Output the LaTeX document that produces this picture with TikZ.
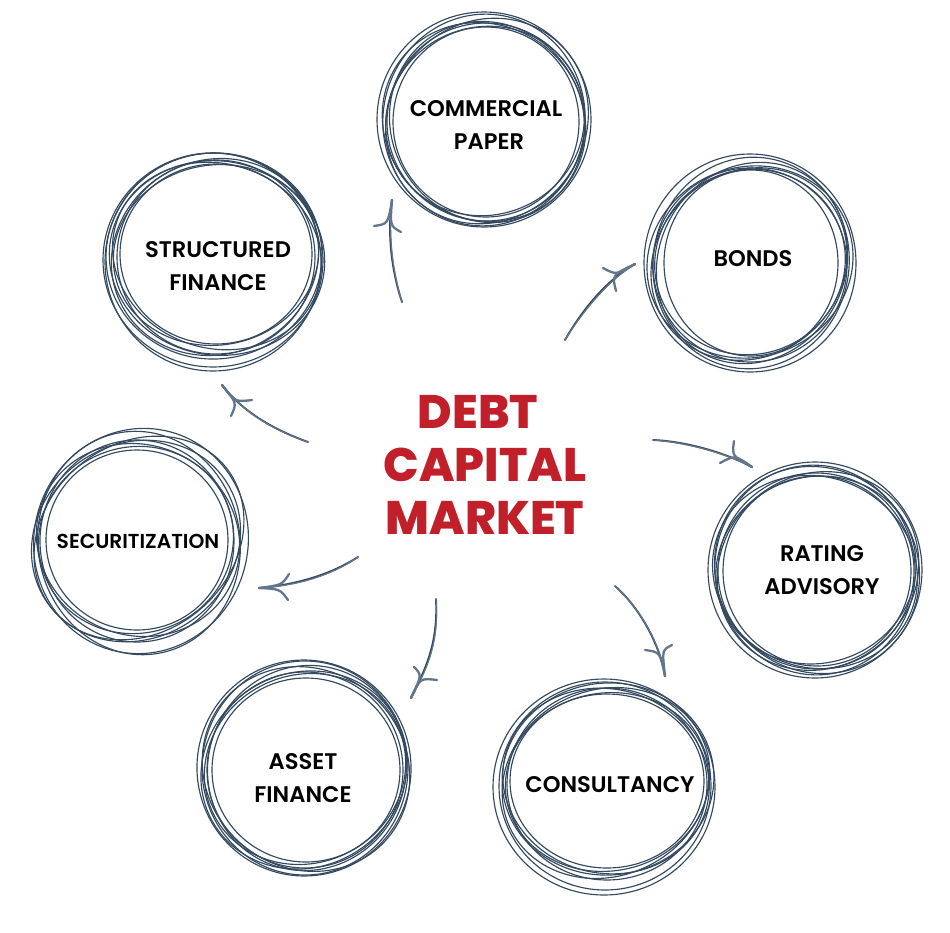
\documentclass[tikz,border=0pt]{standalone}
\usepackage{fontspec}
\setmainfont{Poppins}
\newfontfamily\lab{Poppins SemiBold}
\newfontfamily\heavy{Poppins ExtraBold}
\definecolor{ink}{HTML}{34495F}
\definecolor{inklt}{HTML}{62758B}
\definecolor{debtred}{HTML}{C1202A}
\tikzset{
  ringline/.style={draw=ink,line width=1.15pt},
  label/.style={font=\lab\fontsize{22.6}{33}\selectfont,align=center,text=black,inner sep=0pt},
  title/.style={font=\heavy\fontsize{47}{53}\selectfont,align=center,text=debtred,inner sep=0pt},
  shaft/.style={draw=ink,line width=1.9pt,line cap=round},
  shaftb/.style={draw=inklt,line width=1.2pt,line cap=round,xshift=1pt,yshift=-1pt},
  barb/.style={draw=inklt,line width=2.3pt,line cap=round},
}
\newcommand{\rings}[1]{\foreach \cx/\cy/\rx/\ry/\rot in {#1}
  {\draw[ringline,rotate around={\rot:(\cx,\cy)}] (\cx,\cy) ellipse [x radius=\rx,y radius=\ry];}}
\newcommand{\swoop}[8]{%
  \draw[shaft] (#1) .. controls #2 and #3 .. (#4);
  \draw[shaftb] (#1) .. controls #2 and #3 .. (#4);
  \draw[barb] (#5) .. controls #6 .. (#4);
  \draw[barb] (#7) .. controls #8 .. (#4);
}
\begin{document}
\begin{tikzpicture}[x=1pt,y=-1pt]
\useasboundingbox (0,0) rectangle (950,932);
% scribbled rings
\rings{486/122/93/95/0, 485/121/100/94/20, 487/122/96/102/30, 484/122/104/97/-35, 487/121/106/98/50, 484/120/101/106/-10, 484/119.5/107/107.5/0, 486/122/99/99/0}
\rings{751/263/87/93/0, 750/262/96/92/25, 749/264/102/92/40, 752/263/93/103/-30, 750/262/104/95/20, 751/263/98/106/-10, 750/263/106/109/0, 750/265/97/97/0}
\rings{817/571/94/95/0, 816/570/101/93/20, 815/572/104/95/-25, 818/571/104/96/40, 815/570/100/105/10, 817/570/106/100/-50, 815/570/107/108/0, 816/571/98/98/0}
\rings{607/781/97/87/0, 607/782/102/89/10, 606/781/104/92/-15, 608/779/106/96/5, 606/783/106/93/25, 605/786/106/104/0, 604/787/111/108/0, 607/784/100/96/0}
\rings{306/770/94/92/0, 305/769/102/94/25, 307/768/99/103/-20, 304/770/105/97/30, 306/769/107/99/-40, 305/768/103/107/0, 304/768/107/108/10, 305/770/98/98/0}
\rings{137/540/91/90/0, 136/540/98/93/20, 138/540/103/95/-25, 136/541/108/97/35, 139/538/112/94/40, 139/543/101/112/10, 141/541/107/113/-15, 137/541/97/101/0}
\rings{216/254/96/90/0, 216/255/103/90/10, 217/256/106/92/-20, 215/257/105/97/25, 217/258/108/97/-10, 214/256/108/103/5, 213/262/108/109/0, 213/260/110/107/0, 216/257/99/97/0}
% labels
\node[label] (cp) at (486,125) {COMMERCIAL\\\hspace*{6pt}PAPER};
\node[label] (bo) at (753,259) {BONDS};
\node[label] (ra) at (822,570.5) {RATING\\ADVISORY};
\node[label] (co) at (610,785) {CONSULTANCY};
\node[label] (as) at (303,778) {ASSET\\FINANCE};
\node[label,font=\lab\fontsize{20.2}{24}\selectfont] (se) at (138,541) {SECURITIZATION};
\node[label] (st) at (218,266.5) {STRUCTURED\\FINANCE};
\node[title] (hub) at (485,465) {DEBT\hspace*{14pt}\\CAPITAL\\MARKET};
% connector ends
\coordinate (t1) at (402,302); \coordinate (h1) at (392,200);
\coordinate (t2) at (565,340); \coordinate (h2) at (635,264);
\coordinate (t3) at (653,440); \coordinate (h3) at (752,467);
\coordinate (t4) at (615,586); \coordinate (h4) at (665,676);
\coordinate (t5) at (436,599); \coordinate (h5) at (411,698);
\coordinate (t6) at (358,557); \coordinate (h6) at (259,588);
\coordinate (t7) at (308,442); \coordinate (h7) at (222,385);
\swoop{t1}{(392,272)}{(387,235)}{h1}{374,226}{(388,224)}{401,232}{(390,226)}
\swoop{t2}{(585,305)}{(610,278)}{h2}{603,268}{(616,275)}{616,291}{(612,275)}
\swoop{t3}{(680,441)}{(720,450)}{h3}{734,441}{(732,456)}{720,463}{(735,455)}
\swoop{t4}{(640,608)}{(660,645)}{h4}{645,650}{(660,652)}{672,645}{(662,650)}
\swoop{t5}{(438,640)}{(428,665)}{h5}{414,667}{(422,675)}{437,680}{(420,678)}
\swoop{t6}{(330,575)}{(295,585)}{h6}{289,574}{(282,585)}{288,600}{(280,589)}
\swoop{t7}{(280,432)}{(245,415)}{h7}{252,400}{(235,402)}{231,416}{(237,403)}
\end{tikzpicture}
\end{document}
